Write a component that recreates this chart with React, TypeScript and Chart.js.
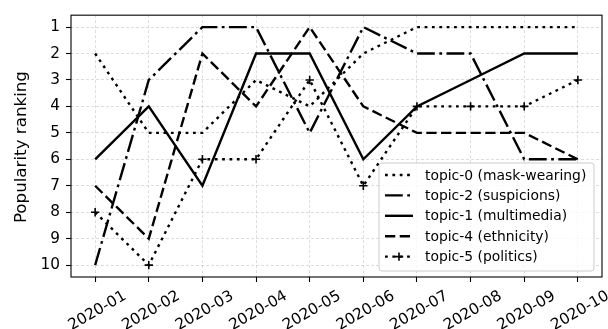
import React, { useEffect, useRef } from 'react';
import { Chart, registerables } from 'chart.js';

Chart.register(...registerables);

const months = ['2020-01', '2020-02', '2020-03', '2020-04', '2020-05', '2020-06', '2020-07', '2020-08', '2020-09', '2020-10'];
const rankTicks = [1, 2, 3, 4, 5, 6, 7, 8, 9, 10];

const topic0 = [2, 5, 5, 3, 4, 2, 1, 1, 1, 1];
const topic2 = [10, 3, 1, 1, 5, 1, 2, 2, 6, 6];
const topic1 = [6, 4, 7, 2, 2, 6, 4, 3, 2, 2];
const topic4 = [7, 9, 2, 4, 1, 4, 5, 5, 5, 6];
const topic5 = [8, 10, 6, 6, 3, 7, 4, 4, 4, 3];

const seriesLabels = [
  'topic-0 (mask-wearing)',
  'topic-2 (suspicions)',
  'topic-1 (multimedia)',
  'topic-4 (ethnicity)',
  'topic-5 (politics)',
];

const FONT = "'DejaVu Sans', sans-serif";
const LW = 2.4;
const U = 2.78;
const DOT = [1 * U, 1.65 * U];
const DASH = [3.7 * U, 1.6 * U];
const DASHDOT = [6.4 * U, 1.6 * U, 1 * U, 1.6 * U];
const SOLID: number[] = [];

const seriesData = [topic0, topic2, topic1, topic4, topic5];
const seriesDash = [DOT, DASHDOT, SOLID, DASH, DOT];
const seriesMarker = [false, false, false, false, true];

function drawPlus(ctx: CanvasRenderingContext2D, x: number, y: number, r: number) {
  ctx.save();
  ctx.setLineDash([]);
  ctx.lineWidth = 1.6;
  ctx.strokeStyle = '#000';
  ctx.beginPath();
  ctx.moveTo(x - r, y);
  ctx.lineTo(x + r, y);
  ctx.moveTo(x, y - r);
  ctx.lineTo(x, y + r);
  ctx.stroke();
  ctx.restore();
}

const decorPlugin = {
  id: 'decor',
  afterDraw(chart: any) {
    const ctx: CanvasRenderingContext2D = chart.ctx;
    const a = chart.chartArea;
    ctx.save();
    // frame
    ctx.setLineDash([]);
    ctx.lineWidth = 1.1;
    ctx.strokeStyle = '#000';
    ctx.strokeRect(a.left, a.top, a.right - a.left, a.bottom - a.top);

    // y axis title
    ctx.save();
    ctx.translate(26, (a.top + a.bottom) / 2 + 1);
    ctx.rotate(-Math.PI / 2);
    ctx.font = `16.7px ${FONT}`;
    ctx.fillStyle = '#000';
    ctx.textAlign = 'center';
    ctx.textBaseline = 'alphabetic';
    ctx.fillText('Popularity ranking', 0, 0);
    ctx.restore();

    // legend
    const lx = 379, ly = 163, lw = 215, lh = 108, rr = 3;
    ctx.beginPath();
    ctx.moveTo(lx + rr, ly);
    ctx.lineTo(lx + lw - rr, ly);
    ctx.arcTo(lx + lw, ly, lx + lw, ly + rr, rr);
    ctx.lineTo(lx + lw, ly + lh - rr);
    ctx.arcTo(lx + lw, ly + lh, lx + lw - rr, ly + lh, rr);
    ctx.lineTo(lx + rr, ly + lh);
    ctx.arcTo(lx, ly + lh, lx, ly + lh - rr, rr);
    ctx.lineTo(lx, ly + rr);
    ctx.arcTo(lx, ly, lx + rr, ly, rr);
    ctx.closePath();
    ctx.fillStyle = 'rgba(255,255,255,0.8)';
    ctx.fill();
    ctx.lineWidth = 1;
    ctx.strokeStyle = '#cccccc';
    ctx.stroke();

    ctx.font = `13.9px ${FONT}`;
    ctx.textAlign = 'left';
    ctx.textBaseline = 'middle';
    for (let i = 0; i < seriesLabels.length; i++) {
      const y = 175 + i * 20.4;
      ctx.save();
      ctx.setLineDash(seriesDash[i]);
      ctx.lineCap = 'butt';
      ctx.lineWidth = LW;
      ctx.strokeStyle = '#000';
      ctx.beginPath();
      ctx.moveTo(385, y);
      ctx.lineTo(413, y);
      ctx.stroke();
      ctx.restore();
      if (seriesMarker[i]) drawPlus(ctx, 399, y, 4.2);
      ctx.fillStyle = '#000';
      ctx.fillText(seriesLabels[i], 425, y + 1);
    }
    ctx.restore();
  },
};

export default function App() {
  const ref = useRef<HTMLCanvasElement>(null);
  useEffect(() => {
    document.body.style.margin = '0';
    const datasets = seriesData.map((vals, i) => ({
      label: seriesLabels[i],
      data: vals.map((v, j) => ({ x: j, y: v })),
      borderColor: '#000',
      backgroundColor: '#000',
      borderWidth: LW,
      borderDash: seriesDash[i],
      borderCapStyle: 'butt' as const,
      fill: false,
      tension: 0,
      pointStyle: 'cross' as const,
      pointRadius: seriesMarker[i] ? 4.2 : 0,
      pointBorderWidth: 1.6,
      pointBorderColor: '#000',
      pointHoverRadius: seriesMarker[i] ? 4.2 : 0,
    }));
    const tickFont = { family: FONT, size: 15.3 };
    const gridOpts = {
      color: 'rgba(176,176,176,0.55)',
      lineWidth: 0.8,
      tickLength: 5,
      tickColor: '#000',
      tickWidth: 1.1,
      tickBorderDash: [],
    };
    const chart = new Chart(ref.current!, {
      type: 'line',
      data: { datasets },
      options: {
        animation: false,
        responsive: false,
        events: [],
        layout: { padding: { top: 13, right: 6, left: 0, bottom: 0 } },
        plugins: { legend: { display: false }, tooltip: { enabled: false } },
        scales: {
          x: {
            type: 'linear',
            min: -0.45,
            max: 9.45,
            afterBuildTicks: (s: any) => {
              s.ticks = months.map((_, i) => ({ value: i }));
            },
            afterFit: (s: any) => {
              s.height = 52;
            },
            ticks: {
              autoSkip: false,
              maxRotation: 30,
              minRotation: 30,
              padding: 5,
              labelOffset: 30,
              color: '#000',
              font: tickFont,
              callback: (v: any) => months[Math.round(Number(v))] ?? '',
            },
            grid: gridOpts,
            border: { display: false, dash: [3, 2] },
          },
          y: {
            type: 'linear',
            reverse: true,
            min: 0.55,
            max: 10.45,
            afterBuildTicks: (s: any) => {
              s.ticks = rankTicks.map((v) => ({ value: v }));
            },
            afterFit: (s: any) => {
              s.width = 71;
            },
            ticks: {
              padding: 6,
              color: '#000',
              font: tickFont,
              callback: (v: any) => String(v),
            },
            grid: gridOpts,
            border: { display: false, dash: [3, 2] },
          },
        },
      },
      plugins: [decorPlugin],
    } as any);
    return () => chart.destroy();
  }, []);
  return (
    <div style={{ width: 608, height: 329 }}>
      <canvas ref={ref} width={608} height={329} style={{ display: 'block', width: 608, height: 329 }} />
    </div>
  );
}
